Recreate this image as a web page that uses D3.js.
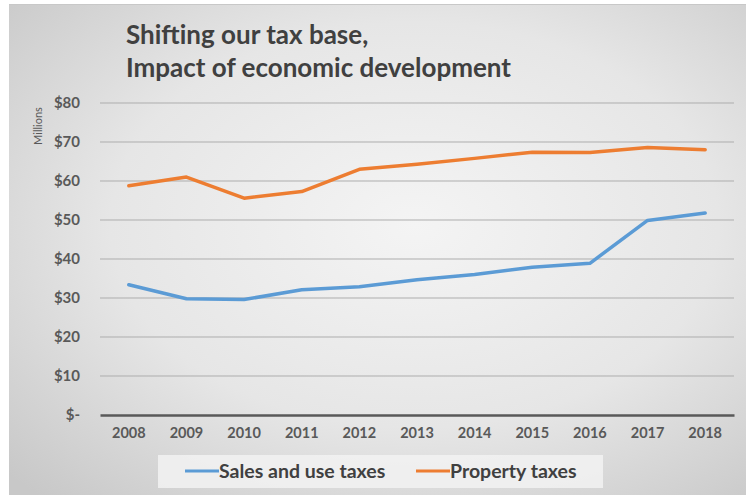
<!DOCTYPE html>
<html>
<head>
<meta charset="utf-8">
<script src="https://cdn.jsdelivr.net/npm/d3@7"></script>
<style>
  body { margin: 0; background: #fff; }
  svg { display: block; }
</style>
</head>
<body>
<div id="chart"></div>
<script>
// data (millions of dollars)
const years = ["2008", "2009", "2010", "2011", "2012", "2013", "2014", "2015", "2016", "2017", "2018"];
const salesTaxes = [33.4, 29.8, 29.6, 32.1, 32.9, 34.7, 36.0, 37.9, 38.9, 49.9, 51.8];
const propertyTaxes = [58.8, 61.0, 55.6, 57.3, 63.0, 64.3, 65.8, 67.4, 67.3, 68.6, 68.0];
const yTicks = [0, 10, 20, 30, 40, 50, 60, 70, 80];
const seriesNames = ["Sales and use taxes", "Property taxes"];
const seriesColors = ["#5b9bd5", "#ed7d31"];

const width = 746, height = 495;
const margin = {top: 103, right: 12, bottom: 80, left: 100};
const font = "Lato, 'Open Sans', sans-serif";

let svg = d3.select("#chart").append("svg")
    .attr("width", width)
    .attr("height", height)

// chart background, grey radial fade like the original
let defs = svg.append("defs")
let grad = defs.append("radialGradient")
    .attr("id", "bg")
    .attr("cx", "55%").attr("cy", "45%").attr("r", "75%")
grad.append("stop").attr("offset", "0%").attr("stop-color", "#f4f4f4")
grad.append("stop").attr("offset", "55%").attr("stop-color", "#e6e6e6")
grad.append("stop").attr("offset", "100%").attr("stop-color", "#c8c8c8")

svg.append("rect")
    .attr("x", 9).attr("y", 4)
    .attr("width", width - 9).attr("height", height - 4)
    .attr("fill", "url(#bg)")
svg.append("line")
    .attr("x1", 9).attr("x2", width).attr("y1", 4.5).attr("y2", 4.5)
    .attr("stroke", "#c8c8c8")

let x = d3.scaleBand()
    .domain(years)
    .range([margin.left, width - margin.right])
let y = d3.scaleLinear()
    .domain([0, 80])
    .range([height - margin.bottom, margin.top])

// gridlines
svg.append("g")
    .selectAll("line")
    .data(yTicks.filter(d => d > 0))
    .join("line")
    .attr("x1", margin.left).attr("x2", width - margin.right)
    .attr("y1", d => y(d)).attr("y2", d => y(d))
    .attr("stroke", "#adadad")
    .attr("stroke-width", 1)

// y axis labels
let yAxis = d3.axisLeft(y)
    .tickValues(yTicks)
    .tickSize(0)
    .tickPadding(20)
    .tickFormat(d => d === 0 ? "$-" : "$" + d)
let yg = svg.append("g")
    .attr("transform", `translate(${margin.left},0)`)
    .call(yAxis)
yg.select(".domain").remove()
yg.selectAll("text")
    .attr("font-family", font)
    .attr("font-size", 15)
    .attr("font-weight", 700)
    .attr("fill", "#595959")

// x axis
let xAxis = d3.axisBottom(x).tickSize(0).tickPadding(13)
let xg = svg.append("g")
    .attr("transform", `translate(0,${y(0)})`)
    .call(xAxis)
xg.select(".domain")
    .attr("stroke", "#595959")
    .attr("stroke-width", 2.5)
xg.selectAll("text")
    .attr("font-family", font)
    .attr("font-size", 14.5)
    .attr("font-weight", 700)
    .attr("fill", "#595959")

svg.append("text")
    .attr("transform", `translate(42,126) rotate(-90)`)
    .attr("text-anchor", "middle")
    .attr("font-family", font)
    .attr("font-size", 11)
    .attr("fill", "#595959")
    .text("Millions")

// lines
let line = d3.line()
    .x((d, i) => x(years[i]) + x.bandwidth() / 2)
    .y(d => y(d))
let allSeries = [salesTaxes, propertyTaxes]
svg.append("g")
    .selectAll("path")
    .data(allSeries)
    .join("path")
    .attr("d", line)
    .attr("fill", "none")
    .attr("stroke", (d, i) => seriesColors[i])
    .attr("stroke-width", 3.5)
    .attr("stroke-linejoin", "round")
    .attr("stroke-linecap", "round")

// title
let title = svg.append("text")
    .attr("font-family", font)
    .attr("font-size", 26)
    .attr("font-weight", 700)
    .attr("fill", "#404040")
title.append("tspan").attr("x", 126).attr("y", 44).text("Shifting our tax base,")
title.append("tspan").attr("x", 126).attr("y", 77).text("Impact of economic development")

// legend
let legend = svg.append("g")
legend.append("rect")
    .attr("x", 158).attr("y", 455)
    .attr("width", 445).attr("height", 33)
    .attr("fill", "#f2f2f2")
    .attr("opacity", 0.85)
let legendX = [185, 416]
seriesNames.forEach((name, i) => {
    legend.append("line")
        .attr("x1", legendX[i]).attr("x2", legendX[i] + 34)
        .attr("y1", 471).attr("y2", 471)
        .attr("stroke", seriesColors[i])
        .attr("stroke-width", 3)
    legend.append("text")
        .attr("x", legendX[i] + 34).attr("y", 477.5)
        .attr("font-family", font)
        .attr("font-size", 19.5)
        .attr("font-weight", 700)
        .attr("fill", "#404040")
        .text(name)
})
</script>
</body>
</html>
